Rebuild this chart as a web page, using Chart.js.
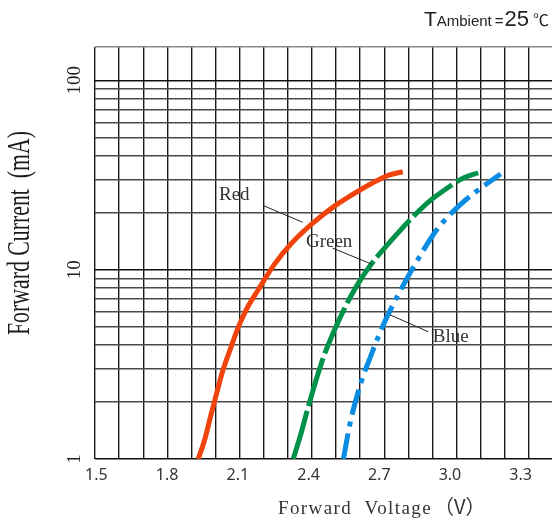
<!DOCTYPE html>
<html>
<head>
<meta charset="utf-8">
<script src="https://cdn.jsdelivr.net/npm/chart.js@4/dist/chart.umd.min.js"></script>
<style>
  html, body { margin: 0; padding: 0; background: #fff; }
  #wrap { width: 552px; height: 522px; }
</style>
</head>
<body>
<div id="wrap"><canvas id="chartIV"></canvas></div>
<script>
// forward voltage (V) / forward current (mA)
const redV   = [1.932, 1.959, 1.986, 2.010, 2.037, 2.067, 2.103, 2.135, 2.186, 2.258, 2.328, 2.413, 2.504, 2.584, 2.669, 2.741, 2.800];
const redI   = [1.0,   1.26,  1.71,  2.22,  2.95,  3.77,  5.0,   6.12,  7.81,  10.8,  13.8,  17.4,  21.4,  24.8,  28.6,  31.6,  32.9];
const greenV = [2.335, 2.364, 2.399, 2.430, 2.464, 2.504, 2.546, 2.578, 2.629, 2.686, 2.754, 2.830, 2.911, 2.987, 3.055, 3.120];
const greenI = [1.0,   1.31,  1.89,  2.56,  3.47,  4.61,  6.0,   7.2,   9.18,  11.5,  14.4,  18.3,  22.9,  26.9,  30.4,  32.5];
const blueV  = [2.548, 2.576, 2.601, 2.629, 2.663, 2.699, 2.737, 2.814, 2.871, 2.929, 2.987, 3.043, 3.110, 3.170, 3.215];
const blueI  = [1.0,   1.54,  2.05,  2.68,  3.47,  4.52,  5.77,  8.82,  11.7,  15.3,  18.8,  22.0,  25.8,  29.2,  32.0];

const xTickLabels = [1.5, 1.8, 2.1, 2.4, 2.7, 3.0, 3.3];
const yTickLabels = [1, 10, 100];

// curve names with label spot and leader line, in (V, mA)
const curveNotes = [
  { text: 'Red',   at: [2.020, 23.3], from: [2.208, 21.8], to: [2.375, 17.8] },
  { text: 'Green', at: [2.389, 13.2], from: [2.502, 13.0], to: [2.668, 10.7] },
  { text: 'Blue',  at: [2.927, 4.15], from: [2.746, 5.77], to: [2.908, 4.70] }
];

const toPoints = (vs, is) => vs.map((v, i) => ({ x: v, y: is[i] }));

const gridSteps = [];
for (let i = 15; i <= 34; i++) gridSteps.push(i / 10);

const logSteps = [];
[1, 10, 100].forEach(d => {
  for (let m = 1; m <= 9; m++) logSteps.push(m * d);
});

const notesPlugin = {
  id: 'notes',
  afterDatasetsDraw(chart) {
    const ctx = chart.ctx;
    const xs = chart.scales.xv;
    const ys = chart.scales.y;

    ctx.save();
    // leader lines + names
    curveNotes.forEach(n => {
      ctx.strokeStyle = '#222';
      ctx.lineWidth = 1;
      ctx.beginPath();
      ctx.moveTo(xs.getPixelForValue(n.from[0]), ys.getPixelForValue(n.from[1]));
      ctx.lineTo(xs.getPixelForValue(n.to[0]), ys.getPixelForValue(n.to[1]));
      ctx.stroke();
      ctx.fillStyle = '#333';
      ctx.font = '19px "Liberation Serif"';
      ctx.textAlign = 'left';
      ctx.textBaseline = 'alphabetic';
      ctx.fillText(n.text, xs.getPixelForValue(n.at[0]), ys.getPixelForValue(n.at[1]));
    });
    ctx.restore();
  },
  afterDraw(chart) {
    const ctx = chart.ctx;
    ctx.save();
    ctx.fillStyle = '#222';
    ctx.textBaseline = 'alphabetic';
    ctx.textAlign = 'left';

    // T Ambient = 25 ℃  (text, font, gap after)
    const parts = [
      ['T', '21px "Liberation Sans"', 0],
      ['Ambient', '15px "Liberation Sans"', 3],
      ['=', '15px "Liberation Sans"', 1],
      ['25', '22px "Liberation Sans"', 4],
      ['℃', '16px "Noto Sans CJK SC"', 0]
    ];
    let total = 0;
    parts.forEach(p => { ctx.font = p[1]; total += ctx.measureText(p[0]).width + p[2]; });
    let px = 549 - total;
    parts.forEach(p => {
      ctx.font = p[1];
      ctx.fillText(p[0], px, 26);
      px += ctx.measureText(p[0]).width + p[2];
    });

    // x title
    ctx.fillStyle = '#333';
    ctx.font = '19px "Liberation Serif"';
    ctx.letterSpacing = '1.4px';
    ctx.fillText('Forward  Voltage', 278, 514);
    ctx.letterSpacing = '0px';
    ctx.font = '20px "Noto Sans CJK SC"';
    ctx.fillText('（V）', 434, 514);

    // y title, squeezed like the original
    ctx.font = '31px "Liberation Serif"';
    ctx.fillStyle = '#1a1a1a';
    const label = 'Forward Current  (mA)';
    const w = ctx.measureText(label).width;
    ctx.translate(21, 233);
    ctx.rotate(-Math.PI / 2);
    ctx.scale(204 / w, 1);
    ctx.textAlign = 'center';
    ctx.textBaseline = 'middle';
    ctx.fillText(label, 0, 0);
    ctx.restore();
  }
};

const chartIV = new Chart(document.getElementById('chartIV'), {
  type: 'line',
  data: {
    datasets: [
      {
        label: 'Red',
        data: toPoints(redV, redI),
        borderColor: '#f0440c',
        borderWidth: 5,
        borderCapStyle: 'butt',
        xAxisID: 'xv',
        yAxisID: 'y'
      },
      {
        label: 'Green',
        data: toPoints(greenV, greenI),
        borderColor: '#00924a',
        borderWidth: 5,
        borderDash: [50, 5],
        borderCapStyle: 'butt',
        xAxisID: 'xv',
        yAxisID: 'y'
      },
      {
        label: 'Blue',
        data: toPoints(blueV, blueI),
        borderColor: '#0a8ce2',
        borderWidth: 5,
        borderDash: [26, 7, 5, 7],
        borderCapStyle: 'butt',
        xAxisID: 'xv',
        yAxisID: 'y'
      }
    ]
  },
  options: {
    responsive: true,
    maintainAspectRatio: false,
    devicePixelRatio: 1,
    animation: false,
    layout: { padding: { top: 47, left: 0, right: 0, bottom: 0 } },
    elements: { point: { radius: 0 }, line: { cubicInterpolationMode: 'monotone' } },
    plugins: { legend: { display: false }, tooltip: { enabled: false } },
    scales: {
      xg: {
        type: 'linear',
        position: 'bottom',
        weight: 1,
        min: 1.5,
        max: 3.396,
        afterBuildTicks: axis => { axis.ticks = gridSteps.filter(v => v <= axis.max).map(v => ({ value: v })); },
        afterFit: s => { s.height = 0; },
        ticks: { display: false, autoSkip: false },
        grid: { color: '#1a1a1a', lineWidth: 1.4, drawTicks: false },
        border: { display: false }
      },
      xv: {
        type: 'linear',
        position: 'bottom',
        weight: 0,
        min: 1.494,
        max: 3.433,
        afterBuildTicks: axis => { axis.ticks = xTickLabels.map(v => ({ value: v })); },
        afterFit: s => { s.height = 63; },
        ticks: {
          autoSkip: false,
          maxRotation: 0,
          padding: 7,
          color: '#333',
          font: { family: '"Noto Sans"', size: 16 },
          callback: v => v.toFixed(1)
        },
        grid: { display: false, drawTicks: false },
        border: { display: false }
      },
      y: {
        type: 'logarithmic',
        position: 'left',
        min: 1,
        max: 150,
        afterBuildTicks: axis => {
          axis.ticks = logSteps.filter(v => v <= axis.max).concat([axis.max]).map(v => ({ value: v }));
        },
        afterFit: s => { s.width = 95; },
        ticks: {
          autoSkip: false,
          minRotation: 90,
          maxRotation: 90,
          crossAlign: 'center',
          padding: 6,
          color: '#222',
          font: { family: '"Liberation Serif"', size: 19 },
          callback: v => (yTickLabels.includes(v) ? String(v) : '')
        },
        grid: {
          drawTicks: false,
          lineWidth: 1.4,
          color: c => (yTickLabels.includes(c.tick.value) ? '#111' : (c.tick.value === 150 ? '#888' : '#4a4a4a'))
        },
        border: { display: false }
      }
    }
  },
  plugins: [notesPlugin]
});
</script>
</body>
</html>
